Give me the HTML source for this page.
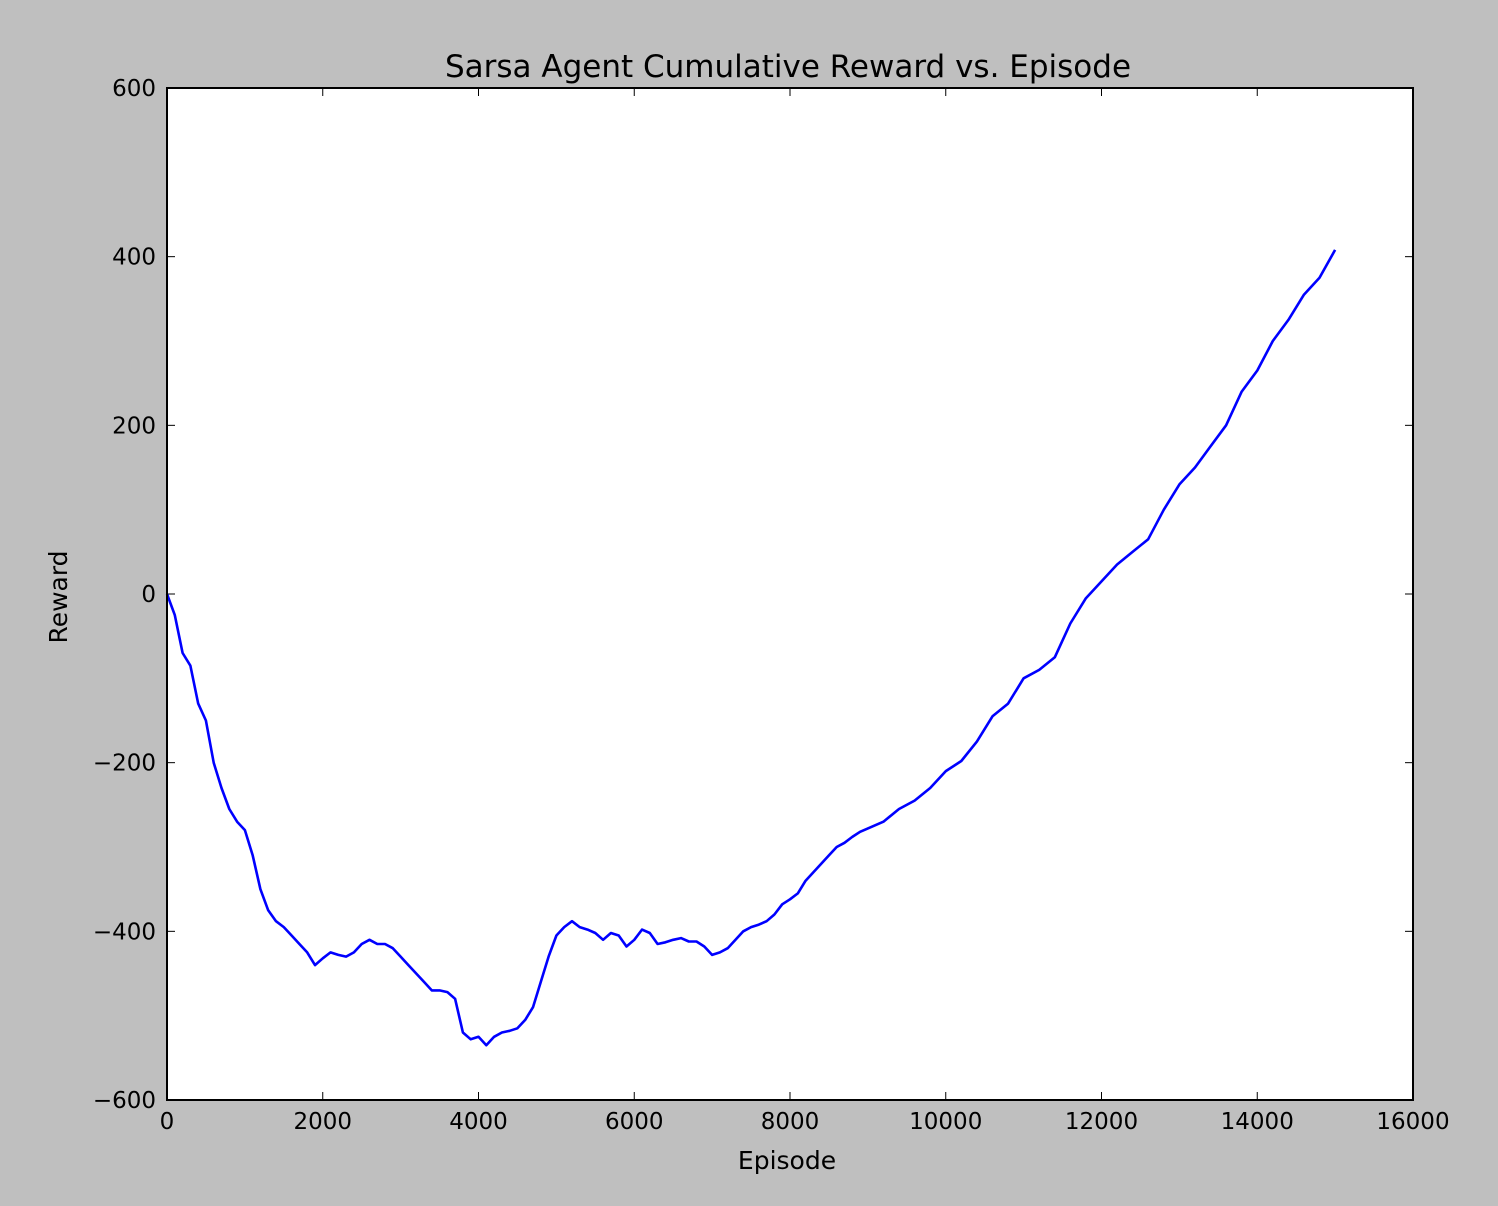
<!DOCTYPE html>
<html><head><meta charset="utf-8"><style>
body{margin:0;background:#bfbfbf;}
svg{display:block;font-family:"DejaVu Sans","Liberation Sans",sans-serif;}
</style></head><body>
<svg id="chart" width="1498" height="1206" viewBox="0 0 1498 1206">
<rect x="0" y="0" width="1498" height="1206" fill="#bfbfbf"/>
<rect x="167" y="88" width="1246" height="1012" fill="#fff"/>
<g id="ticks"></g>
<path id="line" fill="none" stroke="#0000ff" stroke-width="2.6" stroke-linejoin="round"/>
<rect x="167" y="88" width="1246" height="1012" fill="none" stroke="#000" stroke-width="2"/>
<text x="788" y="77" font-size="31" text-anchor="middle" fill="#000">Sarsa Agent Cumulative Reward vs. Episode</text>
<text x="787" y="1169" font-size="25" text-anchor="middle" fill="#000">Episode</text>
<text transform="translate(67,597) rotate(-90)" font-size="25" text-anchor="middle" fill="#000">Reward</text>
</svg>
<script>
const episodes=[0,100,200,300,400,500,600,700,800,900,1000,1100,1200,1300,1400,1500,1600,1700,1800,1900,2000,2100,2200,2300,2400,2500,2600,2700,2800,2900,3000,3100,3200,3300,3400,3500,3600,3700,3800,3900,4000,4100,4200,4300,4400,4500,4600,4700,4800,4900,5000,5100,5200,5300,5400,5500,5600,5700,5800,5900,6000,6100,6200,6300,6400,6500,6600,6700,6800,6900,7000,7100,7200,7300,7400,7500,7600,7700,7800,7900,8000,8100,8200,8300,8400,8500,8600,8700,8800,8900,9000,9200,9400,9600,9800,10000,10200,10400,10600,10800,11000,11200,11400,11600,11800,12000,12200,12400,12600,12800,13000,13200,13400,13600,13800,14000,14200,14400,14600,14800,15000];
const rewards=[0,-25,-70,-85,-130,-150,-200,-230,-255,-270,-280,-310,-350,-375,-388,-395,-405,-415,-425,-440,-432,-425,-428,-430,-425,-415,-410,-415,-415,-420,-430,-440,-450,-460,-470,-470,-472,-480,-520,-528,-525,-535,-525,-520,-518,-515,-505,-490,-460,-430,-405,-395,-388,-395,-398,-402,-410,-402,-405,-418,-410,-398,-402,-415,-413,-410,-408,-412,-412,-418,-428,-425,-420,-410,-400,-395,-392,-388,-380,-368,-362,-355,-340,-330,-320,-310,-300,-295,-288,-282,-278,-270,-255,-245,-230,-210,-198,-175,-145,-130,-100,-90,-75,-35,-5,15,35,50,65,100,130,150,175,200,240,265,300,325,355,375,408];
const xTicks=[0,2000,4000,6000,8000,10000,12000,14000,16000];
const yTicks=[-600,-400,-200,0,200,400,600];
const X0=167,X1=1413,Y0=1100,Y1=88;
const sx=v=>X0+(v-0)/(16000-0)*(X1-X0);
const sy=v=>Y0-(v+600)/1200*(Y0-Y1);
const NS="http://www.w3.org/2000/svg";
let d="";
episodes.forEach((e,i)=>{d+=(i?"L":"M")+sx(e).toFixed(1)+","+sy(rewards[i]).toFixed(1);});
document.getElementById("line").setAttribute("d",d);
const g=document.getElementById("ticks");
xTicks.forEach(v=>{
 const x=sx(v);
 for(const [a,b] of [[Y0,Y0-8],[Y1,Y1+8]]){
  const l=document.createElementNS(NS,"line");
  l.setAttribute("x1",x);l.setAttribute("x2",x);l.setAttribute("y1",a);l.setAttribute("y2",b);
  l.setAttribute("stroke","#000");l.setAttribute("stroke-width","1");
  
  
  g.appendChild(l);}
 const t=document.createElementNS(NS,"text");
 t.setAttribute("x",x);t.setAttribute("y",1129);t.setAttribute("font-size","23");t.setAttribute("text-anchor","middle");
 t.textContent=v;
 
 
 g.appendChild(t);
});
yTicks.forEach(v=>{
 const y=sy(v);
 for(const [a,b] of [[X0,X0+8],[X1,X1-8]]){
  const l=document.createElementNS(NS,"line");
  l.setAttribute("x1",a);l.setAttribute("x2",b);l.setAttribute("y1",y);l.setAttribute("y2",y);
  l.setAttribute("stroke","#000");l.setAttribute("stroke-width","1");
  
  
  g.appendChild(l);}
 const t=document.createElementNS(NS,"text");
 t.setAttribute("x",156);t.setAttribute("y",y+8);t.setAttribute("font-size","23");t.setAttribute("text-anchor","end");
 t.textContent=v<0?"\u2212"+Math.abs(v):String(v);
 
 
 g.appendChild(t);
});
</script>
</body></html>
